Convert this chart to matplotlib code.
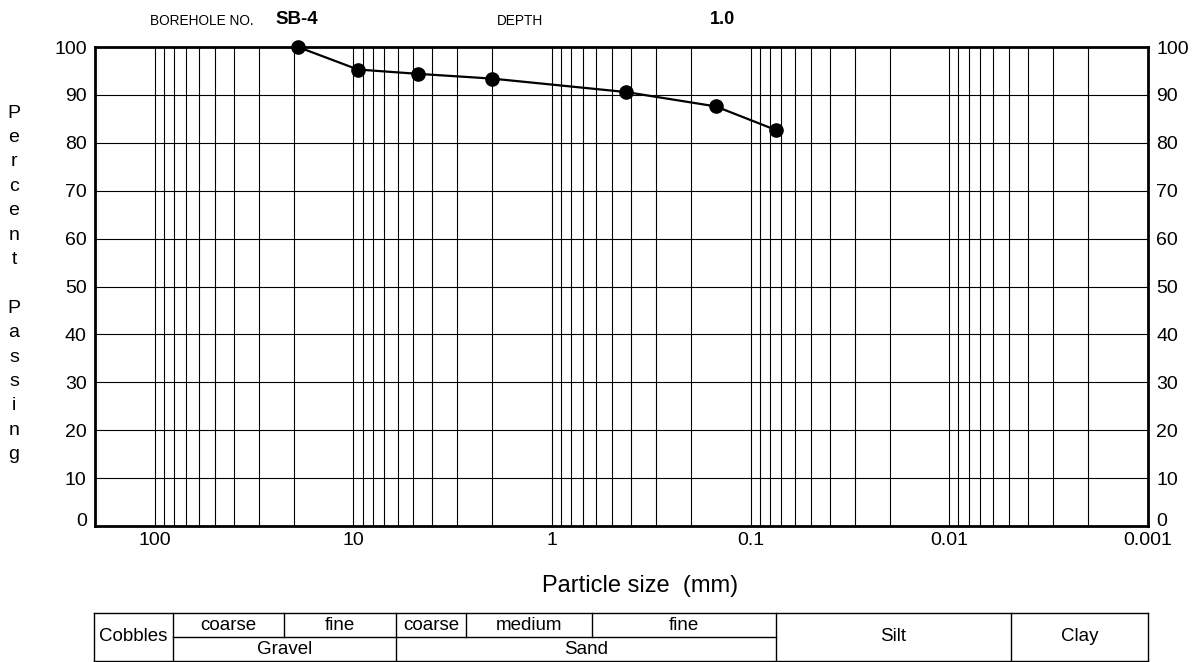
import matplotlib
matplotlib.use("Agg")
import matplotlib.pyplot as plt
from matplotlib.ticker import LogLocator, FixedLocator, FixedFormatter, NullFormatter
from matplotlib.transforms import ScaledTranslation

plt.rcParams["font.family"] = ["Liberation Sans", "DejaVu Sans"]

# Sieve results
borehole = "SB-4"
depth = "1.0"
particle_size_mm = [19.0, 9.5, 4.75, 2.0, 0.425, 0.15, 0.075]
percent_passing = [100.0, 95.3, 94.4, 93.4, 90.6, 87.6, 82.7]

x_ticks = [100, 10, 1, 0.1, 0.01, 0.001]
x_tick_labels = ["100", "10", "1", "0.1", "0.01", "0.001"]
y_ticks = list(range(0, 101, 10))

W, H = 1202, 662
fig = plt.figure(figsize=(W / 100, H / 100), dpi=100)

def px(x0, y0, x1, y1):
    return [x0 / W, 1 - y1 / H, (x1 - x0) / W, (y1 - y0) / H]

ax = fig.add_axes(px(95, 47, 1148, 526))
ax.set_xscale("log")
ax.set_xlim(200, 0.001)
ax.set_ylim(0, 100)

ax.xaxis.set_major_locator(FixedLocator(x_ticks))
ax.xaxis.set_major_formatter(FixedFormatter(x_tick_labels))
ax.xaxis.set_minor_locator(LogLocator(base=10, subs=tuple(range(2, 10)), numticks=50))
ax.xaxis.set_minor_formatter(NullFormatter())
ax.set_yticks(y_ticks)

ax.grid(True, which="both", axis="x", color="black", linewidth=0.8)
ax.grid(True, which="major", axis="y", color="black", linewidth=0.8)
ax.set_axisbelow(True)

for s in ax.spines.values():
    s.set_linewidth(2.0)

ax.tick_params(axis="both", which="both", length=0, labelsize=14)
ax.tick_params(axis="x", pad=4)
ax.tick_params(axis="y", pad=6, labelleft=True, labelright=True)

# lift the "0" labels a little so they clear the x tick labels
zero_tick = ax.yaxis.get_major_ticks()[0]
lift = ScaledTranslation(0, 6 / 100, fig.dpi_scale_trans)
for lab in (zero_tick.label1, zero_tick.label2):
    lab.set_transform(lab.get_transform() + lift)

ax.plot(particle_size_mm, percent_passing, color="black", linewidth=1.6,
        marker="o", markersize=9.5, clip_on=False, zorder=5)

# Overlay axes in pixel units for annotations and the soil classification table
ov = fig.add_axes([0, 0, 1, 1])
ov.set_xlim(0, W)
ov.set_ylim(H, 0)
ov.axis("off")

ov.text(150, 21, "BOREHOLE NO.", fontsize=9.8, va="center", ha="left")
ov.text(275, 19, borehole, fontsize=13.5, fontweight="bold", va="center", ha="left")
ov.text(497, 21, "DEPTH", fontsize=9.8, va="center", ha="left")
ov.text(710, 19, depth, fontsize=13, fontweight="bold", va="center", ha="left")

ov.text(640, 586, "Particle size  (mm)", fontsize=17, ha="center", va="center")

# vertical, letter-stacked y label
ylabel_lines = list("Percent") + [""] + list("Passing")
first_y, step = 113, 24.4
for i, ch in enumerate(ylabel_lines):
    if ch:
        ov.text(14, first_y + i * step, ch, fontsize=14, ha="center", va="center")

# Classification table
cols = [94, 173, 284, 396, 466, 592, 776, 1011, 1148]
top, mid, bot = 613, 637, 660.5
lw = 1.0
ov.plot([cols[0], cols[-1]], [top, top], color="black", lw=lw)
ov.plot([cols[0], cols[-1]], [bot, bot], color="black", lw=lw)
ov.plot([cols[1], cols[6]], [mid, mid], color="black", lw=lw)
for c in [cols[0], cols[1], cols[3], cols[6], cols[7], cols[8]]:
    ov.plot([c, c], [top, bot], color="black", lw=lw)
for c in [cols[2], cols[4], cols[5]]:
    ov.plot([c, c], [top, mid], color="black", lw=lw)

fs = 13.5
sub_labels = ["coarse", "fine", "coarse", "medium", "fine"]
for i, lab in enumerate(sub_labels):
    ov.text((cols[i + 1] + cols[i + 2]) / 2, (top + mid) / 2 + 1, lab,
            fontsize=fs, ha="center", va="center")
ov.text((cols[1] + cols[3]) / 2, (mid + bot) / 2 + 1, "Gravel", fontsize=fs, ha="center", va="center")
ov.text((cols[3] + cols[6]) / 2, (mid + bot) / 2 + 1, "Sand", fontsize=fs, ha="center", va="center")
ov.text((cols[0] + cols[1]) / 2, (top + bot) / 2, "Cobbles", fontsize=fs, ha="center", va="center")
ov.text((cols[6] + cols[7]) / 2, (top + bot) / 2, "Silt", fontsize=fs, ha="center", va="center")
ov.text((cols[7] + cols[8]) / 2, (top + bot) / 2, "Clay", fontsize=fs, ha="center", va="center")

fig.savefig("out.png", dpi=100)
